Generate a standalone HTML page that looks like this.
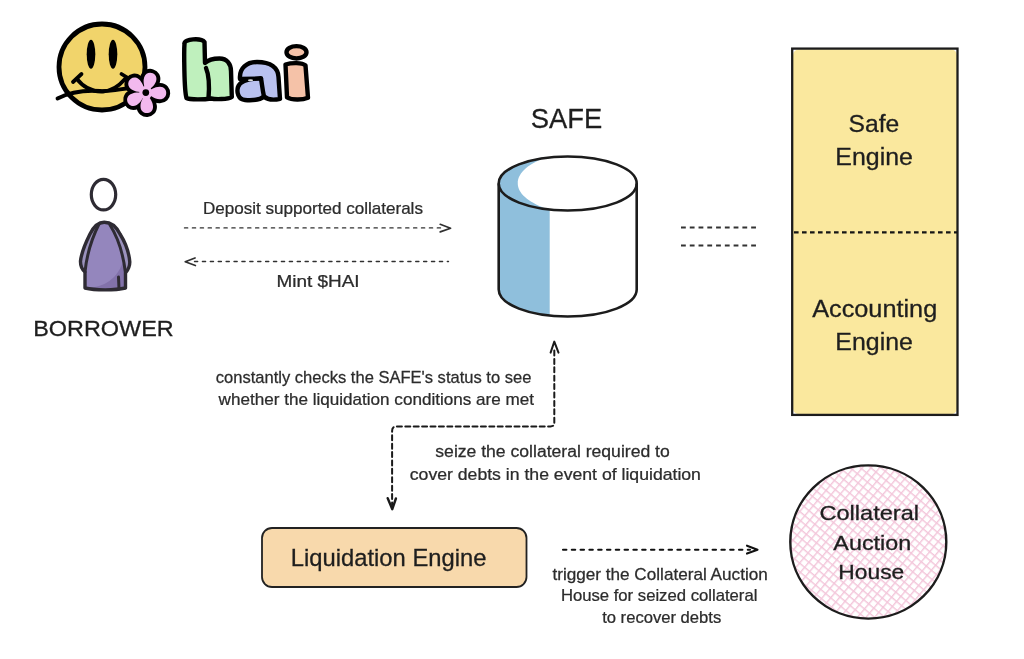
<!DOCTYPE html>
<html><head><meta charset="utf-8">
<style>
html,body{margin:0;padding:0;background:#fff;}
body{width:1024px;height:659px;position:relative;overflow:hidden;font-family:"Liberation Sans",sans-serif;color:#262626;}
.t{position:absolute;white-space:nowrap;line-height:1;}
svg{position:absolute;left:0;top:0;}
</style></head><body>
<svg width="1024" height="659" viewBox="0 0 1024 659">
  <!-- smiley -->
  <circle cx="102" cy="67" r="43" fill="#f1d46b" stroke="#000" stroke-width="4.8"/>
  <ellipse cx="91" cy="54.3" rx="4.3" ry="14.5" fill="#000"/>
  <ellipse cx="113" cy="54.3" rx="4.3" ry="14.5" fill="#000"/>
  <path d="M73 82 L81.5 74 M76.5 78.5 C84 88, 94 92, 103 91.5 C112 91, 119 86, 125 79 M121.5 74 L128 78" fill="none" stroke="#000" stroke-width="3.8" stroke-linecap="round"/>
  <path d="M57.5 98.5 C68 93, 84 90, 100 91 C112 91.5, 120 89, 131 88" fill="none" stroke="#000" stroke-width="3.8" stroke-linecap="round"/>
  <!-- flower -->
  <g transform="translate(145.8 92.6) scale(1.08)">
    <g stroke="#000" stroke-width="7.2" stroke-linejoin="round" fill="#000"><path d="M0 0 C4 -2.2, 8 -5.8, 13 -5.8 C21 -5.8, 21 5.8, 13 5.8 C8 5.8, 4 2.2, 0 0 Z" transform="rotate(-72)"/><path d="M0 0 C4 -2.2, 8 -5.8, 13 -5.8 C21 -5.8, 21 5.8, 13 5.8 C8 5.8, 4 2.2, 0 0 Z" transform="rotate(2)"/><path d="M0 0 C4 -2.2, 8 -5.8, 13 -5.8 C21 -5.8, 21 5.8, 13 5.8 C8 5.8, 4 2.2, 0 0 Z" transform="rotate(86)"/><path d="M0 0 C4 -2.2, 8 -5.8, 13 -5.8 C21 -5.8, 21 5.8, 13 5.8 C8 5.8, 4 2.2, 0 0 Z" transform="rotate(150)"/><path d="M0 0 C4 -2.2, 8 -5.8, 13 -5.8 C21 -5.8, 21 5.8, 13 5.8 C8 5.8, 4 2.2, 0 0 Z" transform="rotate(218)"/><circle r="6"/></g>
    <g fill="#f2b9ee"><path d="M0 0 C4 -2.2, 8 -5.8, 13 -5.8 C21 -5.8, 21 5.8, 13 5.8 C8 5.8, 4 2.2, 0 0 Z" transform="rotate(-72)"/><path d="M0 0 C4 -2.2, 8 -5.8, 13 -5.8 C21 -5.8, 21 5.8, 13 5.8 C8 5.8, 4 2.2, 0 0 Z" transform="rotate(2)"/><path d="M0 0 C4 -2.2, 8 -5.8, 13 -5.8 C21 -5.8, 21 5.8, 13 5.8 C8 5.8, 4 2.2, 0 0 Z" transform="rotate(86)"/><path d="M0 0 C4 -2.2, 8 -5.8, 13 -5.8 C21 -5.8, 21 5.8, 13 5.8 C8 5.8, 4 2.2, 0 0 Z" transform="rotate(150)"/><path d="M0 0 C4 -2.2, 8 -5.8, 13 -5.8 C21 -5.8, 21 5.8, 13 5.8 C8 5.8, 4 2.2, 0 0 Z" transform="rotate(218)"/><circle r="6"/></g>
    <circle r="3.1" fill="#000"/>
  </g>
  <!-- hai -->
  <g stroke="#000" stroke-width="4.4" stroke-linejoin="round" stroke-linecap="round">
    <path fill="#bff0bd" d="M184.5 43.5 C184 39, 201 37.5, 204.5 42 L205 63 C208 60, 213 58.5, 219.5 58.5 C227 58.5, 231 64, 231 71 L231.8 97 C228 99.5, 215 99.5, 211 98.5 C205 99.5, 190 100, 186.5 98 C184 90, 184 50, 184.5 43.5 Z"/>
    <path fill="none" d="M206 68 C209 75, 209.5 86, 208.5 98.5"/>
    <path fill="#b9c1ef" d="M240 79 C239 68, 247 62, 257 62 C271 62, 278 68, 278.5 77 L280 98.8 C275 100, 268 100, 264 96.5 C260 100, 252 100.5, 245 100 C238 99.5, 236.5 92, 238 87 C240 81, 250 78.5, 261 78.5 Z"/>
    <path fill="none" d="M261 78.5 C262 84, 262.5 90, 264 96.5"/>
    <ellipse fill="#f5c2a8" cx="296.5" cy="52.3" rx="10" ry="6.2"/>
    <path fill="#f5c2a8" d="M285.5 64.5 C292 62.5, 302 62.5, 305.5 65.5 L308 97.8 C302 100.2, 292 100.2, 287 97.3 Z"/>
  </g>
  <ellipse cx="250.5" cy="80.2" rx="2.6" ry="0.9" fill="#ddd"/>

  <!-- borrower -->
  <ellipse cx="103.5" cy="194.6" rx="12.2" ry="15.3" fill="#fff" stroke="#2e2b33" stroke-width="3.2"/>
  <path d="M104.2 222.3 C98 222.3, 93.5 227, 90 234 C86 242, 81.5 252, 80.5 261 C80.3 266, 82 269.5, 85 272 L85 288 C95 290.5, 115 290.5, 125.5 288 L125.5 273 C128 270, 129.8 267, 129.8 262 C129 252, 125 242, 120 234 C116.5 227, 110.5 222.3, 104.2 222.3 Z" fill="#9486bd"/>
  <path d="M85 288 C100 288, 116 282, 123 262 L126 273 L125.5 288 C115 290.5, 95 290.5, 85 288 Z" fill="#8272aa"/>
  <path d="M99 224 C93 236, 87 252, 85 272 L80.5 261 C82 248, 88 234, 99 224 Z M110 225 C117 236, 123 252, 125.5 273 L129.8 262 C128 248, 121 234, 110 225 Z" fill="#9b92bd"/>
  <path d="M104.2 222.3 C98 222.3, 93.5 227, 90 234 C86 242, 81.5 252, 80.5 261 C80.3 266, 82 269.5, 85 272 L85 288 C95 290.5, 115 290.5, 125.5 288 L125.5 273 C128 270, 129.8 267, 129.8 262 C129 252, 125 242, 120 234 C116.5 227, 110.5 222.3, 104.2 222.3 Z" fill="none" stroke="#2e2b33" stroke-width="3.4" stroke-linejoin="round"/>
  <path d="M99 224 C93 236, 87 252, 85 272 M110 225 C117 236, 123 252, 125.5 273 M118.5 277 L119 289" fill="none" stroke="#2e2b33" stroke-width="3" stroke-linecap="round"/>

  <!-- arrows deposit/mint -->
  <g stroke="#303030" stroke-width="1.35" fill="none" stroke-linecap="round" stroke-linejoin="round">
    <line x1="184.5" y1="227.9" x2="441" y2="227.9" stroke-dasharray="3.2 4.7"/>
    <path d="M440.2 224.3 L450.6 228.2 L440.2 231.9" stroke-width="1.7"/>
    <line x1="194.5" y1="261.5" x2="448.5" y2="261.5" stroke-dasharray="3.2 4.7"/>
    <path d="M195 258 L185.2 261.7 L195.4 265.5" stroke-width="1.7"/>
  </g>

  <!-- SAFE cylinder -->
  <path d="M498.7 183.5 L498.7 289.5 C498.7 304.4, 529.6 316.5, 567.7 316.5 C605.8 316.5, 636.7 304.4, 636.7 289.5 L636.7 183.5 Z" fill="#fff"/>
  <path d="M498.7 183.5 L498.7 289.5 C498.7 302, 520 313, 549.7 315.8 L549.7 210 C520 206, 498.7 195, 498.7 183.5 Z" fill="#8fbfdc"/>
  <ellipse cx="567.7" cy="183.5" rx="69" ry="27" fill="#fff"/>
  <path d="M548 157 C528 163, 516 174, 518 186 C520 197, 535 205, 549.7 210 C520 206, 498.7 195, 498.7 183.5 C498.7 170, 520 160, 548 157 Z" fill="#8fbfdc"/>
  <g fill="none" stroke="#1c1c1c" stroke-width="2.6">
    <ellipse cx="567.7" cy="183.5" rx="69" ry="27"/>
    <path d="M498.7 183.5 L498.7 289.5 C498.7 304.4, 529.6 316.5, 567.7 316.5 C605.8 316.5, 636.7 304.4, 636.7 289.5 L636.7 183.5"/>
  </g>

  <!-- short dashes -->
  <g stroke="#333" stroke-width="1.8">
    <line x1="681" y1="227.5" x2="757" y2="227.5" stroke-dasharray="4.8 3.97"/>
    <line x1="681" y1="245.5" x2="757" y2="245.5" stroke-dasharray="4.8 3.97"/>
  </g>

  <!-- engines box -->
  <rect x="793" y="49.3" width="164" height="365" rx="6" fill="#fae89e"/>
  <rect x="792.2" y="48.6" width="165.3" height="366.3" fill="none" stroke="#1c1c1c" stroke-width="2.3"/>
  <line x1="794" y1="232.4" x2="957" y2="232.4" stroke="#151515" stroke-width="2.4" stroke-dasharray="4.6 3.4"/>

  <!-- checks arrow -->
  <g stroke="#1a1a1a" fill="none" stroke-linecap="round" stroke-linejoin="round">
    <path d="M554.3 350.5 L554.3 423 Q554.3 426.4 550.5 426.4 L396 426.4 Q392.1 426.6 392.1 431 L392.1 505" stroke-dasharray="5 3.4" stroke-width="2"/>
    <path d="M550.6 352.6 L554.3 341.6 L558.5 352.6" stroke-width="2"/>
    <path d="M387.7 498.2 L392.3 509.2 L395.9 498.5" stroke-width="2.4"/>
  </g>

  <!-- liquidation engine -->
  <rect x="262" y="528" width="264.5" height="59" rx="10" ry="10" fill="#f8d9ac" stroke="#222" stroke-width="1.8"/>
  <g stroke="#111" stroke-width="2.1" fill="none" stroke-linecap="round" stroke-linejoin="round">
    <line x1="563" y1="549.8" x2="750" y2="549.8" stroke-dasharray="3.4 5.4"/>
    <path d="M747 545.7 L757.5 549.7 L747 553.6"/>
  </g>

  <!-- auction circle -->
  <defs>
    <pattern id="hatch" width="6.6" height="6.6" patternUnits="userSpaceOnUse" patternTransform="translate(868 542) rotate(40)">
      <path d="M0 0.7 H6.6 M0.7 0 V6.6" stroke="#f3c6da" stroke-width="1.4"/>
    </pattern>
  </defs>
  <ellipse cx="868.3" cy="542" rx="78" ry="76.6" fill="url(#hatch)" stroke="#1c1c1c" stroke-width="2.4"/>
</svg>

<svg width="1024" height="659" style="position:absolute;left:0;top:0;will-change:transform" font-family="Liberation Sans, sans-serif" fill="#1e1e1e" stroke="#1e1e1e" stroke-width="0.3">
<text transform="translate(530.70 128.20) scale(0.9603 1)" font-size="28.50">SAFE</text>
<text transform="translate(33.18 336.25) scale(1.0273 1)" font-size="22.80">BORROWER</text>
<text transform="translate(202.96 213.75) scale(1.0669 1)" font-size="16.00" fill="#2c2c2c" stroke="#2c2c2c" stroke-width="0.25">Deposit supported collaterals</text>
<text transform="translate(276.52 286.70) scale(1.1843 1)" font-size="16.00" fill="#2c2c2c" stroke="#2c2c2c" stroke-width="0.25">Mint &#36;HAI</text>
<text transform="translate(848.50 131.50) scale(1.0358 1)" font-size="23.80">Safe</text>
<text transform="translate(835.35 164.50) scale(1.0472 1)" font-size="23.80">Engine</text>
<text transform="translate(812.14 317.20) scale(1.0630 1)" font-size="23.80">Accounting</text>
<text transform="translate(835.36 350.20) scale(1.0471 1)" font-size="23.80">Engine</text>
<text transform="translate(215.79 382.60) scale(1.0335 1)" font-size="16.00" fill="#2c2c2c" stroke="#2c2c2c" stroke-width="0.25">constantly checks the SAFE&#39;s status to see</text>
<text transform="translate(218.57 404.80) scale(1.0695 1)" font-size="16.00" fill="#2c2c2c" stroke="#2c2c2c" stroke-width="0.25">whether the liquidation conditions are met</text>
<text transform="translate(435.32 456.80) scale(1.0991 1)" font-size="16.00" fill="#2c2c2c" stroke="#2c2c2c" stroke-width="0.25">seize the collateral required to</text>
<text transform="translate(409.77 479.50) scale(1.1034 1)" font-size="16.00" fill="#2c2c2c" stroke="#2c2c2c" stroke-width="0.25">cover debts in the event of liquidation</text>
<text transform="translate(290.87 566.00) scale(1.0113 1)" font-size="23.50">Liquidation Engine</text>
<text transform="translate(552.41 579.60) scale(1.0923 1)" font-size="15.70" fill="#2c2c2c" stroke="#2c2c2c" stroke-width="0.25">trigger the Collateral Auction</text>
<text transform="translate(560.88 601.20) scale(1.0631 1)" font-size="15.70" fill="#2c2c2c" stroke="#2c2c2c" stroke-width="0.25">House for seized collateral</text>
<text transform="translate(602.14 623.00) scale(1.0588 1)" font-size="15.70" fill="#2c2c2c" stroke="#2c2c2c" stroke-width="0.25">to recover debts</text>
<text transform="translate(819.50 519.50) scale(1.1677 1)" font-size="20.20">Collateral</text>
<text transform="translate(833.37 550.10) scale(1.1555 1)" font-size="20.20">Auction</text>
<text transform="translate(838.33 579.40) scale(1.1295 1)" font-size="20.20">House</text>
</svg>
</body></html>
